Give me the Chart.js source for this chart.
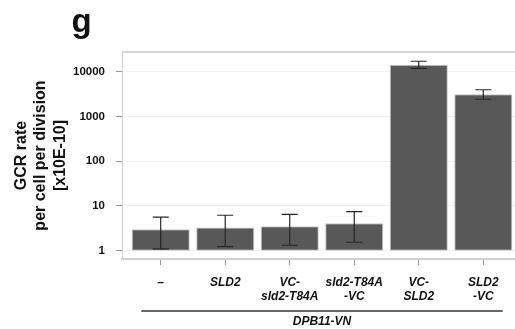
<!DOCTYPE html>
<html>
<head>
<meta charset="utf-8">
<script src="https://cdn.jsdelivr.net/npm/chart.js@4.4.1/dist/chart.umd.min.js"></script>
<style>
  html, body { margin: 0; padding: 0; background: #fff; overflow: hidden; }
  canvas { display: block; }
</style>
</head>
<body>
<canvas id="gcr" width="530" height="329" style="width:530px;height:329px"></canvas>
<script>
const categories = ['–', 'SLD2', ['VC-', 'sld2-T84A'], ['sld2-T84A', '-VC'], ['VC-', 'SLD2'], ['SLD2', '-VC']];
const gcrRate = [3.0, 3.3, 3.5, 4.1, 14600, 3160];
const errLow = [1.1, 1.23, 1.32, 1.54, 12100, 2450];
const errHigh = [5.6, 6.2, 6.5, 7.5, 17400, 4000];
const yTicks = [1, 10, 100, 1000, 10000];
const barBase = 1;

const FONT = "'Liberation Sans', Arial, Helvetica, sans-serif";

// error bars, drawn with the chart's own scales
const errorBars = {
  id: 'errorBars',
  afterDatasetsDraw(chart) {
    const { ctx, scales: { x, y } } = chart;
    ctx.save();
    ctx.strokeStyle = '#262626';
    ctx.lineWidth = 1.2;
    gcrRate.forEach((v, i) => {
      const px = x.getPixelForValue(i);
      const hi = y.getPixelForValue(errHigh[i]);
      const lo = y.getPixelForValue(errLow[i]);
      ctx.beginPath();
      ctx.moveTo(px, hi); ctx.lineTo(px, lo);
      ctx.moveTo(px - 8, hi); ctx.lineTo(px + 8, hi);
      ctx.moveTo(px - 8, lo); ctx.lineTo(px + 8, lo);
      ctx.stroke();
    });
    ctx.restore();
  }
};

// panel letter, top frame line and the DPB11-VN bracket line
const decorations = {
  id: 'decorations',
  afterDraw(chart) {
    const { ctx, chartArea, scales: { x } } = chart;
    ctx.save();
    ctx.strokeStyle = '#d6d6d6';
    ctx.lineWidth = 2;
    ctx.beginPath();
    ctx.moveTo(chartArea.left, chartArea.top);
    ctx.lineTo(chartArea.right, chartArea.top);
    ctx.stroke();

    ctx.strokeStyle = '#333';
    ctx.lineWidth = 1.3;
    const by = chartArea.bottom + 52;
    ctx.beginPath();
    ctx.moveTo(x.getPixelForValue(-0.3), by);
    ctx.lineTo(x.getPixelForValue(5.3), by);
    ctx.stroke();

    ctx.fillStyle = '#111';
    ctx.font = 'bold 33px ' + FONT;
    ctx.textBaseline = 'alphabetic';
    ctx.textAlign = 'left';
    ctx.fillText('g', 71.5, 31.5);
    ctx.restore();
  }
};

new Chart(document.getElementById('gcr'), {
  type: 'bar',
  data: {
    datasets: [{
      data: categories.map((c, i) => ({ x: i, y: [barBase, gcrRate[i]] })),
      backgroundColor: '#585858',
      borderColor: '#c4c4c4',
      borderWidth: 1,
      borderSkipped: false,
      barPercentage: 0.9,
      categoryPercentage: 1
    }]
  },
  options: {
    responsive: false,
    devicePixelRatio: 1,
    animation: false,
    layout: { padding: { top: 52, right: 8, bottom: 0, left: 0 } },
    plugins: {
      legend: { display: false },
      tooltip: { enabled: false }
    },
    scales: {
      x: {
        type: 'linear',
        min: -0.6,
        max: 5.6,
        offset: false,
        afterBuildTicks: (scale) => { scale.ticks = categories.map((c, i) => ({ value: i })); },
        afterFit: (scale) => { scale.height = 70; },
        grid: { offset: false, drawOnChartArea: false, tickLength: 6, tickColor: '#9a9a9a' },
        border: { color: '#d0d0d0', width: 2 },
        ticks: {
          callback: (v) => categories[v],
          autoSkip: false,
          maxRotation: 0,
          padding: 11,
          color: '#111',
          font: { family: FONT, size: 12, weight: 'bold', style: 'italic', lineHeight: 1.17 }
        },
        title: {
          display: true,
          text: 'DPB11-VN',
          color: '#111',
          padding: { top: 0, bottom: 0.5 },
          font: { family: FONT, size: 12, weight: 'bold', style: 'italic' }
        }
      },
      y: {
        type: 'logarithmic',
        min: 0.65,
        max: 28000,
        afterBuildTicks: (scale) => { scale.ticks = yTicks.map(v => ({ value: v, major: true })); },
        afterFit: (scale) => { scale.width = 122; },
        grid: { color: '#f1f1f1', tickLength: 6, tickColor: '#9a9a9a' },
        border: { color: '#d0d0d0', width: 1 },
        ticks: {
          callback: (v) => String(v),
          padding: 11,
          color: '#111',
          font: { family: FONT, size: 11.5, weight: 'bold' }
        },
        title: {
          display: true,
          text: ['GCR rate', 'per cell per division', '[x10E-10]'],
          color: '#111',
          padding: { top: 12.5, bottom: 0 },
          font: { family: FONT, size: 16, weight: 'bold', lineHeight: 1.19 }
        }
      }
    }
  },
  plugins: [errorBars, decorations]
});
</script>
</body>
</html>
